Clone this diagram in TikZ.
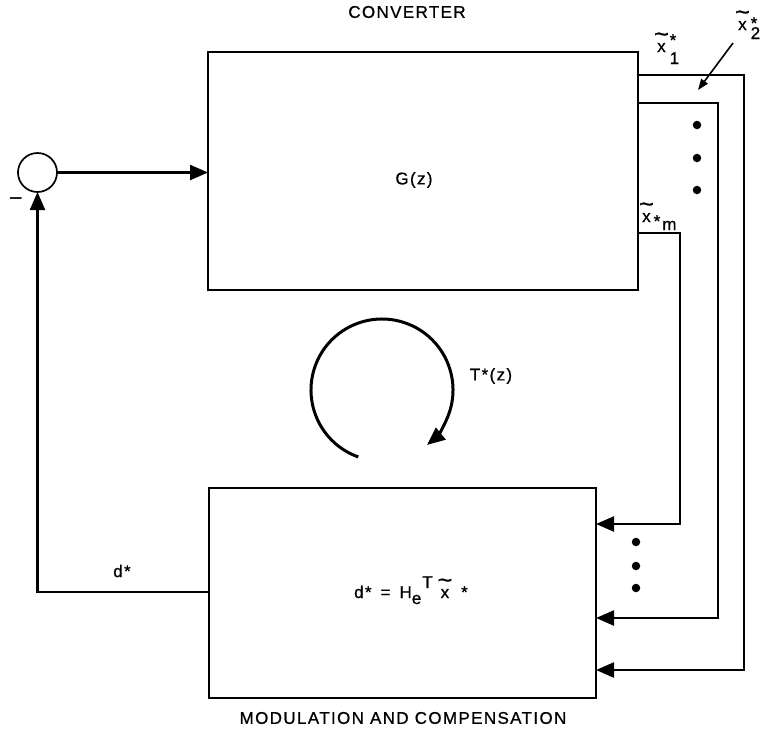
\documentclass[tikz,border=0pt]{standalone}
\usepackage{fontspec}
\setmainfont{Liberation Sans}
\usetikzlibrary{arrows.meta}
\newcommand{\tx}{\ooalign{x\cr\hidewidth\raisebox{10pt}{\scalebox{1.5}[1.4]{\char"7E}}\hidewidth\cr}}
\begin{document}
\begin{tikzpicture}[x=1pt,y=-1pt,
  blk/.style={draw,line width=1.7pt,inner sep=0pt,outer sep=0pt},
  sig/.style={line width=2.3pt},
  tip/.style={-{Triangle[length=18pt,width=15pt]}},
  lbl/.style={font=\fontsize{17}{19}\selectfont\addfontfeature{LetterSpace=8,FakeBold=0.8},inner sep=0pt},
  dotc/.style={fill,circle,inner sep=0pt,minimum size=8.5pt}]
\useasboundingbox (0,0) rectangle (764,732);
% blocks
\node[blk,minimum width=430pt,minimum height=238pt] (conv) at (423,171) {};
\node[blk,minimum width=387pt,minimum height=210pt] (mod) at (402.5,593) {};
\node[blk,circle,minimum size=39pt] (sum) at (37.5,172.5) {};
% texts
\node[lbl] (convlbl) at (407,12) {CONVERTER};
\node[lbl] (gz) at (414,180) {G(z)};
\node[lbl] (modlbl) at (403,718) {MODULATION AND COMPENSATION};
\node[lbl] (tz) at (491,376) {T*(z)};
\node[lbl] (dlbl) at (122,571) {d*};
\node[lbl,font=\fontsize{24}{26}\selectfont] (minus) at (16,202) {\char"2212};
\node[lbl,anchor=base west] (formula) at (354,598) {d*\hspace{9pt}=\hspace{9pt}H\raisebox{-6pt}{e}\hspace{1pt}\raisebox{10pt}{T}\hspace{8pt}\tx\hspace{12pt}*};
\node[lbl,anchor=base west] (x1lbl) at (657,52) {\tx\kern4pt\rlap{\raisebox{6pt}{*}}\raisebox{-12pt}{1}};
\node[lbl,anchor=base west] (x2lbl) at (738,30) {\tx\kern4pt\rlap{\raisebox{1pt}{*}}\raisebox{-9pt}{2}};
\node[lbl,anchor=base west] (xmlbl) at (642,222) {\tx\kern3pt\raisebox{-5pt}{*}\kern2pt\raisebox{-8pt}{m}};
% dots
\node[dotc] (d1) at (697,125) {};
\node[dotc] (d2) at (697,158) {};
\node[dotc] (d3) at (697,190) {};
\node[dotc] (d4) at (636,542) {};
\node[dotc] (d5) at (636,566) {};
\node[dotc] (d6) at (636,588) {};
% routing points
\coordinate (c1) at (744,75);
\coordinate (e1) at (744,670);
\coordinate (c2) at (718,103);
\coordinate (e2) at (718,618);
\coordinate (cm) at (680,233);
\coordinate (em) at (680,524);
\coordinate (p1) at (733,43);
\coordinate (p2) at (698,90);
% connectors
\draw[sig,tip] (sum.east) -- (conv.west |- sum.east);
\draw[sig,tip] (mod.west |- 0,592) -| (sum.south);
\draw[sig,tip] (conv.east |- c1) -- (c1) -- (e1) -- (mod.east |- e1);
\draw[sig,tip] (conv.east |- c2) -- (c2) -- (e2) -- (mod.east |- e2);
\draw[sig,tip] (conv.east |- cm) -- (cm) -- (em) -- (mod.east |- em);
\draw[line width=1.6pt,-{Triangle[length=11pt,width=8pt]}] (p1) -- (p2);
% loop arrow
\draw[line width=3pt,tip] (382,390) ++(109.5:71) arc[start angle=109.5,end angle=410.7,radius=71];
\end{tikzpicture}
\end{document}
